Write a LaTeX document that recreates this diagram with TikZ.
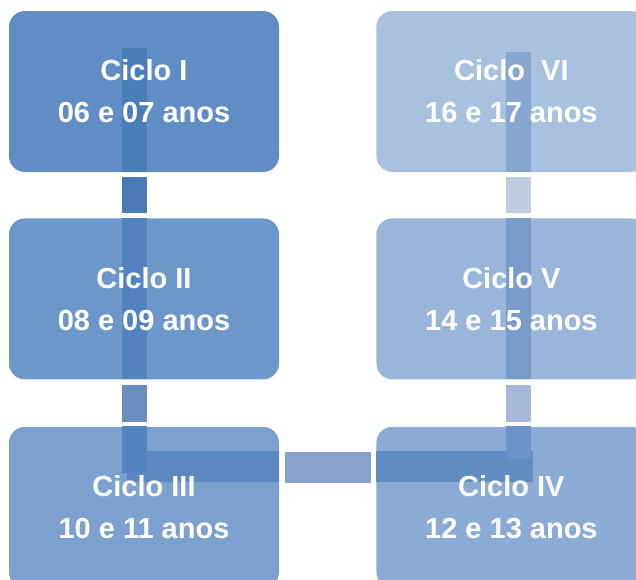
\documentclass[tikz,border=0pt]{standalone}
\usepackage{fontspec}
\setmainfont{Liberation Sans}
\usepackage{tikz}
\usetikzlibrary{positioning}
\usepackage{xcolor}

\definecolor{boxI}{HTML}{5F8DC4}
\definecolor{boxII}{HTML}{6D97C9}
\definecolor{boxIII}{HTML}{7CA1CE}
\definecolor{boxIV}{HTML}{8AACD4}
\definecolor{boxV}{HTML}{99B6DA}
\definecolor{boxVI}{HTML}{A8C1DF}

\tikzset{
	cyclebox/.style={rectangle, rounded corners=16pt, minimum width=270pt,
		minimum height=161pt, inner sep=0pt},
	cycletext/.style={text=white, align=center,
		font=\bfseries\fontsize{29}{42}\selectfont}
}

\begin{document}
\begin{tikzpicture}[x=1pt, y=-1pt]
		\useasboundingbox (0, 0) rectangle (636, 579);
		\clip (0, 0) rectangle (636, 579);

		% the six cycles
		\node[cyclebox, fill=boxI] (c1) at (144, 91.5) {};
		\node[cyclebox, fill=boxII, below=46pt of c1] (c2) {};
		\node[cyclebox, fill=boxIII, below=47pt of c2] (c3) {};
		\node[cyclebox, fill=boxVI, right=97pt of c1] (c6) {};
		\node[cyclebox, fill=boxV, below=46pt of c6] (c5) {};
		\node[cyclebox, fill=boxIV, below=47pt of c5] (c4) {};

		% bars inside the boxes
		\fill[color={rgb,255:red,74;green,126;blue,185}] (122, 48) rectangle (147, 172);
		\fill[color={rgb,255:red,82;green,131;blue,190}] (122, 218) rectangle (147, 379);
		\fill[color={rgb,255:red,94;green,137;blue,192}] (127, 451) rectangle (279, 482);
		\fill[color={rgb,255:red,82;green,133;blue,191}] (122, 426) rectangle (147, 473);
		\fill[color={rgb,255:red,98;green,139;blue,193}] (376, 451) rectangle (533, 482);
		\fill[color={rgb,255:red,108;green,147;blue,199}] (506, 426) rectangle (531, 459);
		\fill[color={rgb,255:red,120;green,155;blue,202}] (506, 218) rectangle (531, 379);
		\fill[color={rgb,255:red,135;green,167;blue,208}] (506, 52) rectangle (531, 172);

		% pieces between the boxes
		\fill[color={rgb,255:red,74;green,122;blue,182}] ([xshift=-22pt, yshift=-5pt]c1.south) rectangle ([xshift=3pt, yshift=5pt]c2.north);
		\fill[color={rgb,255:red,107;green,142;blue,191}] ([xshift=-22pt, yshift=-5pt]c2.south) rectangle ([xshift=3pt, yshift=5pt]c3.north);
		\fill[color={rgb,255:red,136;green,162;blue,203}] ([xshift=6pt, yshift=24.5pt]c3.east) rectangle ([xshift=-5pt, yshift=55.5pt]c4.west);
		\fill[color={rgb,255:red,167;green,184;blue,216}] ([xshift=-5.5pt, yshift=5pt]c4.north) rectangle ([xshift=19.5pt, yshift=-5pt]c5.south);
		\fill[color={rgb,255:red,193;green,204;blue,225}] ([xshift=-5.5pt, yshift=5pt]c5.north) rectangle ([xshift=19.5pt, yshift=-5pt]c6.south);

		% labels
		\node[cycletext] (t1) at (c1) {Ciclo I\\06 e 07 anos};
		\node[cycletext] (t2) at (c2) {Ciclo II\\08 e 09 anos};
		\node[cycletext] (t3) at (c3) {Ciclo III\\10 e 11 anos};
		\node[cycletext] (t4) at (c4) {Ciclo IV\\12 e 13 anos};
		\node[cycletext] (t5) at (c5) {Ciclo V\\14 e 15 anos};
		\node[cycletext] (t6) at (c6) {Ciclo\ \ VI\\16 e 17 anos};
	\end{tikzpicture}
\end{document}
